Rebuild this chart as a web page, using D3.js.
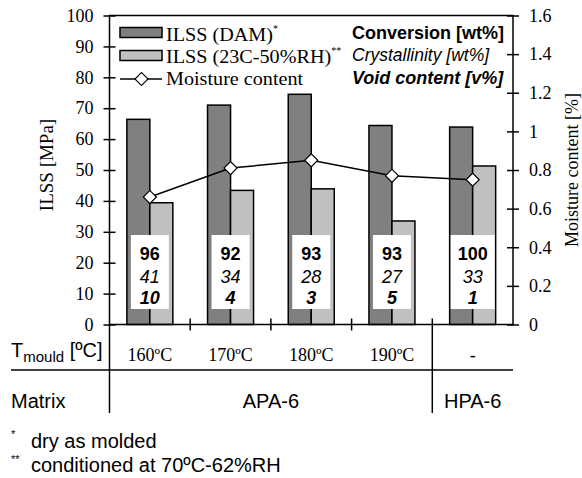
<!DOCTYPE html>
<html lang="en">
<head>
<meta charset="utf-8">
<title>ILSS vs mould temperature</title>
<script src="https://cdn.jsdelivr.net/npm/d3@7"></script>
<style>
  body { margin: 0; background: #fff; }
  .serif { font-family: "Liberation Serif", "Times New Roman", serif; }
  .sans { font-family: "Liberation Sans", Arial, sans-serif; }
</style>
</head>
<body>
<script>
// values
var categories = ["160ºC", "170ºC", "180ºC", "190ºC", "-"];
var matrix = ["APA-6", "APA-6", "APA-6", "APA-6", "HPA-6"];
var ilssDam = [66.4, 71.0, 74.5, 64.4, 63.9];
var ilssCond = [39.4, 43.4, 43.9, 33.5, 51.3];
var moisture = [0.66, 0.81, 0.85, 0.77, 0.75];
var conversion = [96, 92, 93, 93, 100];
var crystallinity = [41, 34, 28, 27, 33];
var voidContent = [10, 4, 3, 5, 1];
var leftTicks = [0, 10, 20, 30, 40, 50, 60, 70, 80, 90, 100];
var rightTicks = [0, 0.2, 0.4, 0.6, 0.8, 1, 1.2, 1.4, 1.6];

var W = 582, H = 478;
var pLeft = 109.5, pRight = 513, pTop = 15.5, pBottom = 324.5;

var svg = d3.select("body").append("svg")
	.attr("width", W)
	.attr("height", H);

var x = d3.scaleBand().domain(categories).range([pLeft, pRight]);
var y = d3.scaleLinear().domain([0, 100]).range([pBottom, pTop]);
var y2 = d3.scaleLinear().domain([0, 1.6]).range([pBottom, pTop]);
var barW = 23;
var cx = function(c) { return x(c) + x.bandwidth() / 2; };

// bars
var g = svg.append("g");
g.selectAll("rect.dam")
	.data(categories)
	.enter().append("rect")
	.attr("class", "dam")
	.attr("x", function(d) { return cx(d) - barW; })
	.attr("y", function(d, i) { return y(ilssDam[i]); })
	.attr("width", barW)
	.attr("height", function(d, i) { return pBottom - y(ilssDam[i]); })
	.attr("fill", "#808080")
	.attr("stroke", "#000")
	.attr("stroke-width", 1.5);

g.selectAll("rect.cond")
	.data(categories)
	.enter().append("rect")
	.attr("class", "cond")
	.attr("x", function(d) { return cx(d); })
	.attr("y", function(d, i) { return y(ilssCond[i]); })
	.attr("width", barW)
	.attr("height", function(d, i) { return pBottom - y(ilssCond[i]); })
	.attr("fill", "#c0c0c0")
	.attr("stroke", "#000")
	.attr("stroke-width", 1.5);

// white boxes with conversion / crystallinity / void
var box = svg.append("g").selectAll("g")
	.data(categories)
	.enter().append("g")
	.attr("transform", function(d) { return "translate(" + cx(d) + ",0)"; });

box.append("rect")
	.attr("x", function(d, i) { return conversion[i] >= 100 ? -22 : -19; })
	.attr("y", 235)
	.attr("width", function(d, i) { return conversion[i] >= 100 ? 44 : 38; })
	.attr("height", 74)
	.attr("fill", "#fff");

box.append("text")
	.attr("class", "sans")
	.attr("y", 260)
	.attr("text-anchor", "middle")
	.attr("font-size", 18)
	.attr("font-weight", "bold")
	.text(function(d, i) { return conversion[i]; });
box.append("text")
	.attr("class", "sans")
	.attr("y", 282.5)
	.attr("text-anchor", "middle")
	.attr("font-size", 18)
	.attr("font-style", "italic")
	.text(function(d, i) { return crystallinity[i]; });
box.append("text")
	.attr("class", "sans")
	.attr("y", 303.5)
	.attr("text-anchor", "middle")
	.attr("font-size", 18)
	.attr("font-style", "italic")
	.attr("font-weight", "bold")
	.text(function(d, i) { return voidContent[i]; });

// moisture line
var line = d3.line()
	.x(function(d, i) { return cx(categories[i]); })
	.y(function(d) { return y2(d); });
svg.append("path")
	.datum(moisture)
	.attr("d", line)
	.attr("fill", "none")
	.attr("stroke", "#000")
	.attr("stroke-width", 1.5);

var diamond = d3.symbol().type(d3.symbolSquare).size(85);
svg.selectAll("path.pt")
	.data(moisture)
	.enter().append("path")
	.attr("class", "pt")
	.attr("d", diamond)
	.attr("transform", function(d, i) { return "translate(" + cx(categories[i]) + "," + y2(d) + ") rotate(45)"; })
	.attr("fill", "#fff")
	.attr("stroke", "#000")
	.attr("stroke-width", 1.2);

// frame
svg.append("rect")
	.attr("x", pLeft).attr("y", pTop)
	.attr("width", pRight - pLeft).attr("height", pBottom - pTop)
	.attr("fill", "none")
	.attr("stroke", "#000")
	.attr("stroke-width", 1.5);

// axes
var axL = svg.append("g")
	.attr("transform", "translate(" + pLeft + ",0)")
	.call(d3.axisLeft(y).tickValues(leftTicks).tickSize(6).tickPadding(10));
axL.select(".domain").remove();
axL.selectAll(".tick line").attr("x1", -6).attr("x2", 6).attr("stroke-width", 1.5);
axL.selectAll(".tick text")
	.attr("class", "serif")
	.attr("font-size", 18)
	.attr("fill", "#000");

var axR = svg.append("g")
	.attr("transform", "translate(" + pRight + ",0)")
	.call(d3.axisRight(y2).tickValues(rightTicks).tickFormat(d3.format("~g")).tickSize(6).tickPadding(10));
axR.select(".domain").remove();
axR.selectAll(".tick line").attr("x1", -6).attr("x2", 6).attr("stroke-width", 1.5);
axR.selectAll(".tick text")
	.attr("class", "serif")
	.attr("font-size", 18)
	.attr("fill", "#000");

// band boundary ticks on the bottom axis
var bounds = categories.slice(1).map(function(c) { return x(c); });
svg.selectAll("line.bt")
	.data(bounds)
	.enter().append("line")
	.attr("class", "bt")
	.attr("x1", function(d) { return d; })
	.attr("x2", function(d) { return d; })
	.attr("y1", pBottom - 6)
	.attr("y2", function(d, i) { return matrix[i] !== matrix[i + 1] ? 413 : pBottom + 6; })
	.attr("stroke", "#000")
	.attr("stroke-width", 1.5);

// axis titles
svg.append("text")
	.attr("class", "serif")
	.attr("transform", "translate(53," + ((pTop + pBottom) / 2 - 5) + ") rotate(-90)")
	.attr("text-anchor", "middle")
	.attr("font-size", 19)
	.text("ILSS [MPa]");
svg.append("text")
	.attr("class", "serif")
	.attr("transform", "translate(578," + ((pTop + pBottom) / 2) + ") rotate(-90)")
	.attr("text-anchor", "middle")
	.attr("font-size", 18)
	.text("Moisture content [%]");

// legend (left)
var leg = svg.append("g");
leg.append("rect").attr("x", 120).attr("y", 27.5).attr("width", 42).attr("height", 10)
	.attr("fill", "#808080").attr("stroke", "#000").attr("stroke-width", 1.5);
leg.append("rect").attr("x", 120).attr("y", 50.5).attr("width", 42).attr("height", 10)
	.attr("fill", "#c0c0c0").attr("stroke", "#000").attr("stroke-width", 1.5);
leg.append("line").attr("x1", 120).attr("x2", 162).attr("y1", 79).attr("y2", 79)
	.attr("stroke", "#000").attr("stroke-width", 1.5);
leg.append("path").attr("d", diamond)
	.attr("transform", "translate(141.5,79) rotate(45)")
	.attr("fill", "#fff").attr("stroke", "#000").attr("stroke-width", 1.2);

// the source's serif legend text is a little wider than Liberation Serif
var stretch = 1.12;
var legText = function(label, yy, mark) {
	var t = leg.append("text").attr("class", "serif")
		.attr("transform", "translate(166," + yy + ") scale(" + stretch + ",1)")
		.attr("font-size", 18)
		.text(label);
	if (mark) {
		var w = t.node().getComputedTextLength() * stretch;
		leg.append("text").attr("class", "serif")
			.attr("x", 166 + w)
			.attr("y", yy - 9)
			.attr("font-size", 10)
			.text(mark);
	}
};
legText("ILSS (DAM)", 41, "*");
legText("ILSS (23C-50%RH)", 63, "**");
legText("Moisture content", 84.5);

// legend (right)
leg.append("text").attr("class", "sans").attr("x", 352).attr("y", 38.5).attr("font-size", 18)
	.attr("font-weight", "bold").text("Conversion [wt%]");
leg.append("text").attr("class", "sans").attr("x", 352).attr("y", 61).attr("font-size", 17.5)
	.attr("font-style", "italic").text("Crystallinity [wt%]");
leg.append("text").attr("class", "sans").attr("x", 352).attr("y", 83.5).attr("font-size", 18)
	.attr("font-weight", "bold").attr("font-style", "italic").text("Void content [v%]");

// table under the chart
svg.selectAll("text.cat")
	.data(categories)
	.enter().append("text")
	.attr("class", "serif cat")
	.attr("x", function(d) { return cx(d); })
	.attr("y", 361)
	.attr("text-anchor", "middle")
	.attr("font-size", 18)
	.text(function(d) { return d; });

var tm = svg.append("text").attr("class", "sans").attr("x", 11).attr("y", 356.5).attr("font-size", 20);
tm.append("tspan").text("T");
tm.append("tspan").attr("font-size", 15).attr("dy", 5).text("mould");
tm.append("tspan").attr("dy", -5).text(" [ºC]");

svg.append("line")
	.attr("x1", 11).attr("x2", pRight).attr("y1", 370).attr("y2", 370)
	.attr("stroke", "#000").attr("stroke-width", 1.5);
svg.append("line")
	.attr("x1", pLeft).attr("x2", pLeft).attr("y1", pBottom).attr("y2", 413)
	.attr("stroke", "#000").attr("stroke-width", 1.5);

svg.append("text").attr("class", "sans").attr("x", 11).attr("y", 408).attr("font-size", 20).text("Matrix");

var groups = Array.from(d3.group(categories, function(d) { return matrix[categories.indexOf(d)]; }),
	function(e) { return { name: e[0], cats: e[1] }; });
svg.selectAll("text.mat")
	.data(groups)
	.enter().append("text")
	.attr("class", "sans mat")
	.attr("x", function(d) {
		var a = x(d.cats[0]), b = x(d.cats[d.cats.length - 1]) + x.bandwidth();
		return (a + b) / 2;
	})
	.attr("y", 408)
	.attr("text-anchor", "middle")
	.attr("font-size", 20)
	.text(function(d) { return d.name; });

// footnotes
svg.append("text").attr("class", "sans").attr("x", 11).attr("y", 438).attr("font-size", 11).text("*");
svg.append("text").attr("class", "sans").attr("x", 31).attr("y", 447.5).attr("font-size", 20).text("dry as molded");
svg.append("text").attr("class", "sans").attr("x", 11).attr("y", 463).attr("font-size", 11).text("**");
svg.append("text").attr("class", "sans").attr("x", 31).attr("y", 472).attr("font-size", 20).text("conditioned at 70ºC-62%RH");
</script>
</body>
</html>
